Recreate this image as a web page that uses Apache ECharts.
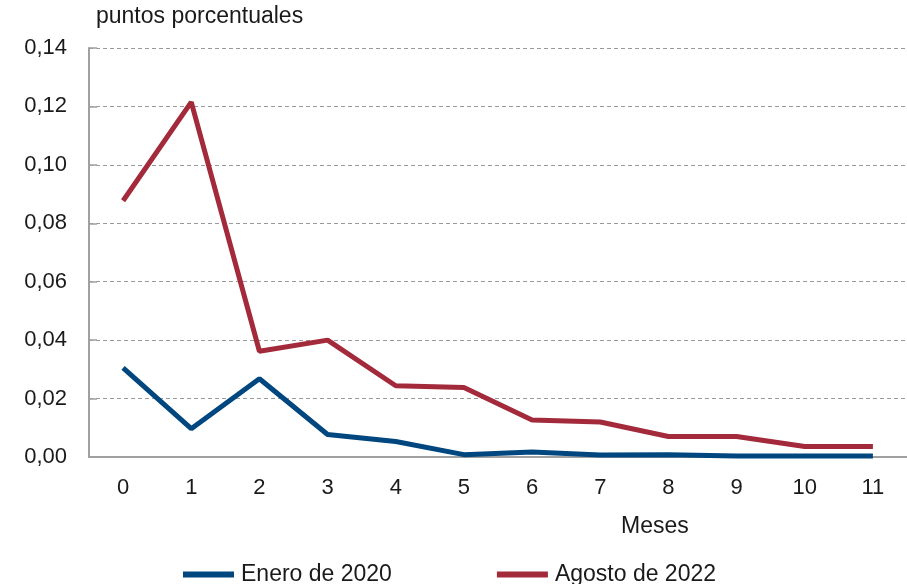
<!DOCTYPE html>
<html>
<head>
<meta charset="utf-8">
<script src="https://cdn.jsdelivr.net/npm/echarts@6/dist/echarts.min.js"></script>
<style>html,body{margin:0;padding:0;background:#fff}#c{width:907px;height:584px}</style>
</head>
<body>
<div id="c"></div>
<script>
const categories = ['0','1','2','3','4','5','6','7','8','9','10','11'];
const enero2020 = [0.0305, 0.0097, 0.0268, 0.0077, 0.0053, 0.0008, 0.0017, 0.0007, 0.0008, 0.0003, 0.0003, 0.0003];
const agosto2022 = [0.0877, 0.1215, 0.0362, 0.0400, 0.0244, 0.0238, 0.0127, 0.0120, 0.0070, 0.0070, 0.0036, 0.0036];
const yTicks = { min: 0, max: 0.14, interval: 0.02 };

const chart = echarts.init(document.getElementById('c'), null, { renderer: 'canvas' });
const font = 'Liberation Sans, Arial, Helvetica, sans-serif';
chart.setOption({
  animation: false,
  textStyle: { fontFamily: font },
  grid: { left: 89, top: 48, width: 829, height: 409, containLabel: false },
  xAxis: {
    type: 'category',
    data: categories,
    boundaryGap: true,
    axisLine: { lineStyle: { color: '#a0a0a0', width: 2 } },
    axisTick: { inside: true, length: 7, lineStyle: { color: '#a0a0a0', width: 1.5 } },
    axisLabel: { color: '#1a1a1a', fontSize: 22, margin: 20, fontFamily: font }
  },
  yAxis: {
    type: 'value',
    min: yTicks.min, max: yTicks.max, interval: yTicks.interval,
    axisLine: { show: true, lineStyle: { color: '#a0a0a0', width: 2 } },
    axisTick: { show: true, inside: true, length: 8, lineStyle: { color: '#a0a0a0', width: 1.5 } },
    splitLine: { show: true, lineStyle: { color: '#9a9a9a', type: [4, 3], width: 1 } },
    axisLabel: {
      color: '#1a1a1a', fontSize: 22, margin: 22, fontFamily: font,
      formatter: v => v.toFixed(2).replace('.', ',')
    }
  },
  legend: {
    left: 178, top: 558,
    itemWidth: 51, itemHeight: 6, itemGap: 105,
    icon: 'rect',
    textStyle: { fontSize: 23, color: '#1a1a1a', fontFamily: font, padding: [0, 0, 0, 2] },
    data: ['Enero de 2020', 'Agosto de 2022']
  },
  graphic: [
    { type: 'text', left: 96, top: 5, style: { text: 'puntos porcentuales', fill: '#1a1a1a', font: '23px ' + font } },
    { type: 'text', left: 621, top: 515, style: { text: 'Meses', fill: '#1a1a1a', font: '23px ' + font } }
  ],
  series: [
    { name: 'Enero de 2020', type: 'line', data: enero2020, showSymbol: false, symbol: 'none',
      lineStyle: { color: '#00467f', width: 5 }, itemStyle: { color: '#00467f' } },
    { name: 'Agosto de 2022', type: 'line', data: agosto2022, showSymbol: false, symbol: 'none',
      lineStyle: { color: '#a32a3b', width: 5 }, itemStyle: { color: '#a32a3b' } }
  ]
});
</script>
</body>
</html>
